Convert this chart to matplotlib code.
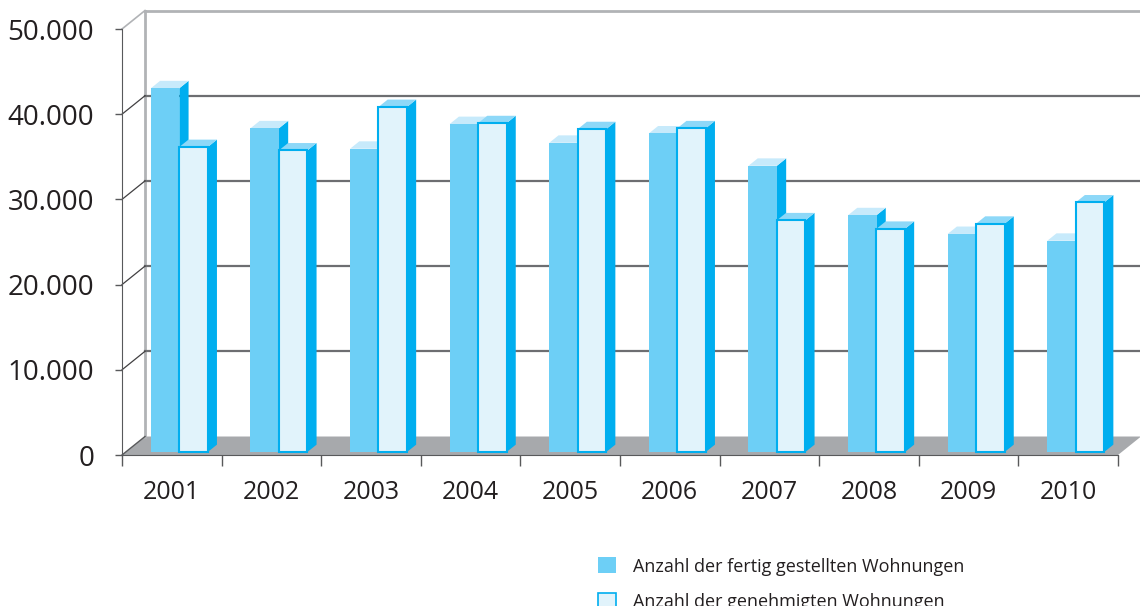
import numpy as np
import matplotlib
matplotlib.use('Agg')
import matplotlib.pyplot as plt
from matplotlib.patches import Polygon, Patch

plt.rcParams['font.family'] = ['Open Sans', 'DejaVu Sans']

# data
years = ['2001', '2002', '2003', '2004', '2005', '2006', '2007', '2008', '2009', '2010']
fertig = [42700, 38000, 35600, 38500, 36300, 37400, 33600, 27800, 25600, 24800]
genehmigt = [35800, 35400, 40500, 38600, 37900, 38000, 27200, 26200, 26800, 29300]
label_fertig = 'Anzahl der fertig gestellten Wohnungen'
label_genehmigt = 'Anzahl der genehmigten Wohnungen'
yticks = [0, 10000, 20000, 30000, 40000, 50000]
ytick_labels = ['0', '10.000', '20.000', '30.000', '40.000', '50.000']

# colours
c_front1 = '#6DCFF6'
c_top1 = '#C7EAFB'
c_side = '#00AEEF'
c_front2 = '#E1F3FB'
c_top2 = '#8DD8F8'
c_floor = '#A7A9AC'
c_grid = '#6D6E71'
c_light = '#B1B3B6'
c_text = '#231F20'

# fake 3d geometry (depth vector in data units)
DX, DY = 0.231, 2170
FD, BD = 0.16, 0.40     # bar front depth, bar depth (fractions of full depth)
W = 0.286
OFF = [0.29, 0.575]
YMAX = 50000

fig = plt.figure(figsize=(11.4, 6.06), dpi=100)
ax = fig.add_axes([122/1140, 151/606, 996/1140, 426/606])
ax.set_xlim(0, len(years))
ax.set_ylim(0, YMAX)

# floor
floor = Polygon([(0, 0), (len(years), 0), (len(years) + DX, DY), (DX, DY)],
                closed=True, fc=c_floor, ec='none', zorder=1, clip_on=False)
ax.add_patch(floor)
ax.plot([0, DX], [0, DY], color='#58595B', lw=1, zorder=2, clip_on=False)

# back wall and gridlines
ax.plot([DX, DX], [DY, YMAX + DY], color=c_light, lw=2, zorder=1, clip_on=False)
ax.plot([DX, len(years) + DX], [YMAX + DY, YMAX + DY], color=c_light, lw=2, zorder=1, clip_on=False)
ax.plot([0, DX], [YMAX, YMAX + DY], color=c_light, lw=1.2, zorder=1, clip_on=False)
for v in yticks[1:-1]:
    ax.plot([DX, len(years) + DX], [v + DY, v + DY], color=c_grid, lw=1.6, zorder=1, clip_on=False)
    ax.plot([0, DX], [v, v + DY], color='#414042', lw=0.9, zorder=1, clip_on=False)


def bar3d(x0, v, front, top, edge):
    y0 = FD * DY
    dx, dy = BD * DX, BD * DY
    side = Polygon([(x0 + W, y0), (x0 + W, y0 + v), (x0 + W + dx, y0 + v + dy), (x0 + W + dx, y0 + dy)],
                   closed=True, fc=c_side, ec='none', zorder=3, clip_on=False)
    topp = Polygon([(x0, y0 + v), (x0 + W, y0 + v), (x0 + W + dx, y0 + v + dy), (x0 + dx, y0 + v + dy)],
                   closed=True, fc=top, ec='none', zorder=3, clip_on=False)
    ax.add_patch(side)
    ax.add_patch(topp)
    ax.bar(x0, v, width=W, bottom=y0, align='edge', color=front,
           edgecolor=edge, linewidth=1.5 if edge != 'none' else 0, zorder=3, clip_on=False)


x = np.arange(len(years))
for i in x:
    bar3d(i + OFF[0], fertig[i], c_front1, c_top1, 'none')
    bar3d(i + OFF[1], genehmigt[i], c_front2, c_top2, c_side)

# axes styling
for s in ['top', 'right']:
    ax.spines[s].set_visible(False)
ax.spines['left'].set_color('#58595B')
ax.spines['bottom'].set_color('#58595B')
ax.spines['left'].set_zorder(2)
ax.spines['bottom'].set_zorder(2)

ax.set_yticks(yticks)
ax.set_yticklabels(ytick_labels, fontsize=20, color=c_text)
ax.tick_params(axis='y', direction='out', length=5, width=1, color='#58595B', pad=15)

ax.set_xticks(np.arange(len(years) + 1))
ax.set_xticklabels([])
ax.set_xticks(x + 0.5, minor=True)
ax.set_xticklabels(years, minor=True, fontsize=18, color=c_text)
ax.tick_params(axis='x', which='major', direction='out', length=8, width=1, color='#58595B')
ax.tick_params(axis='x', which='minor', length=0, pad=18)

handles = [Patch(fc=c_front1, ec='none'), Patch(fc=c_front2, ec=c_side, lw=1.2)]
fig.legend(handles, [label_fertig, label_genehmigt], loc='upper left',
           bbox_to_anchor=(582/1140, 1 - 541/606), frameon=False, fontsize=13,
           handlelength=1.0, handleheight=1.0, handletextpad=0.9, labelspacing=0.95,
           labelcolor=c_text)

fig.savefig('out.png', dpi=100)
